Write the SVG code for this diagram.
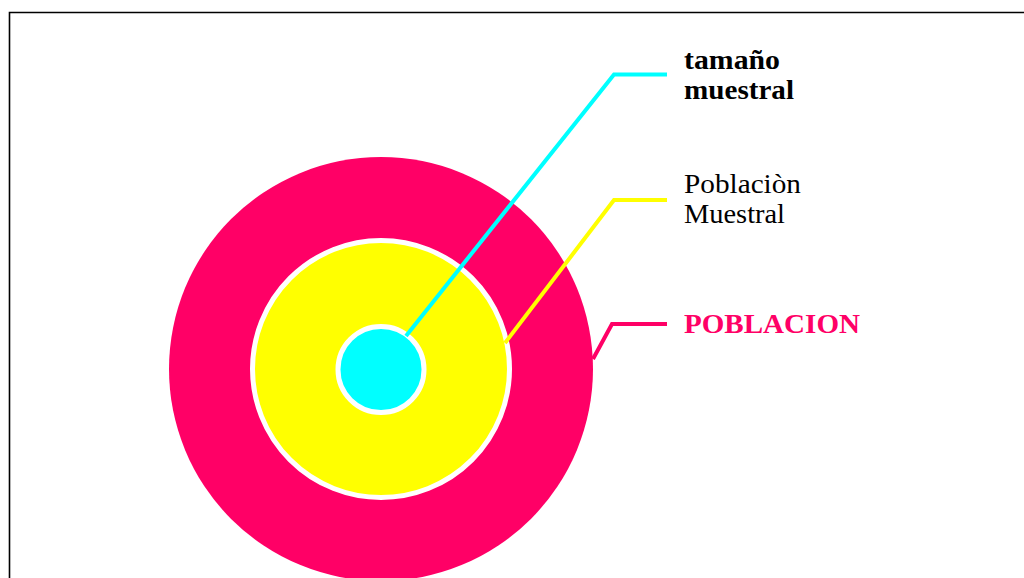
<svg xmlns="http://www.w3.org/2000/svg" width="1024" height="578" viewBox="0 0 1024 578">
<style>
.lbl{font-family:"Liberation Serif","Times New Roman",serif;font-size:28px}
.b{font-weight:bold}
.lead{fill:none;stroke-width:4;stroke-linejoin:miter}
.ring{stroke:#FFFFFF;stroke-width:5}
</style>
<rect x="0" y="0" width="1024" height="578" fill="#FFFFFF"/>
<path d="M9.5 578 V12.5 H1024" fill="none" stroke="#000000" stroke-width="1.6"/>
<g id="poblacion">
<circle cx="381" cy="369" r="212" fill="#FF0066"/>
<text class="lbl b" x="684" y="333" fill="#FF0066" textLength="176" lengthAdjust="spacingAndGlyphs">POBLACION</text>
</g>
<g id="poblacion-muestral">
<circle class="ring" cx="381" cy="369" r="128.5" fill="#FFFF00"/>
<text class="lbl" x="684" y="193" fill="#000000" textLength="117" lengthAdjust="spacingAndGlyphs">Poblaciòn</text>
<text class="lbl" x="684" y="223" fill="#000000" textLength="101" lengthAdjust="spacingAndGlyphs">Muestral</text>
</g>
<g id="tamano-muestral">
<circle class="ring" cx="381" cy="369.5" r="43" fill="#00FFFF"/>
<text class="lbl b" x="684" y="69" fill="#000000" textLength="96" lengthAdjust="spacingAndGlyphs">tamaño</text>
<text class="lbl b" x="684" y="99" fill="#000000" textLength="110" lengthAdjust="spacingAndGlyphs">muestral</text>
</g>
<g id="connectors">
<polyline class="lead" points="406,336 614,74.5 667,74.5" stroke="#00FFFF"/>
<polyline class="lead" points="505,343 614,200 667,200" stroke="#FFFF00"/>
<polyline class="lead" points="593,359 612,324 667,324" stroke="#FF0066"/>
</g>
</svg>
